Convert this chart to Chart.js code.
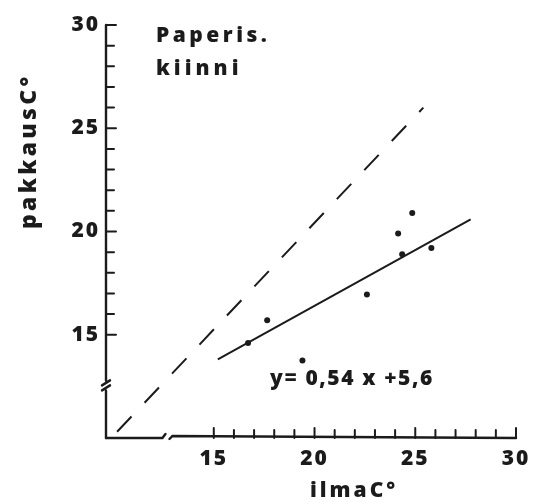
<!DOCTYPE html>
<html>
<head>
<meta charset="utf-8">
<script src="https://cdn.jsdelivr.net/npm/chart.js@4"></script>
<style>
  body { margin: 0; background: #fff; }
  canvas { display: block; }
</style>
</head>
<body>
<canvas id="chart" width="537" height="504"></canvas>
<script>
// measured temperatures: air (x) vs package (y)
const airTemp = [16.7, 17.65, 19.4, 22.6, 24.15, 24.35, 24.85, 25.8];
const packTemp = [14.6, 15.7, 13.75, 16.95, 19.9, 18.9, 20.9, 19.2];

// fitted line y = 0.54 x + 5.6 and where it is drawn
const slope = 0.54;
const intercept = 5.6;
const fitRange = [15.2, 27.75];

// reference line (package = air)
const equalX = [10.2, 25.4];
const equalY = [10.3, 26.0];

const tickLabels = [15, 20, 25, 30];
const minorTicks = [15, 16, 17, 18, 19, 20, 21, 22, 23, 24, 25, 26, 27, 28, 29, 30];

const ink = '#1b1b1b';
const fontFamily = '"Noto Sans", "Open Sans", sans-serif';

// axes with breaks, inward tick marks and the hand-lettered texts
const brokenAxes = {
    id: 'brokenAxes',
    beforeDraw(chart) {
        chart.ctx.letterSpacing = '2px';
    },
    afterDraw(chart) {
        const ctx = chart.ctx;
        const xs = chart.scales.x;
        const ys = chart.scales.y;
        const x0 = chart.chartArea.left;
        const y0 = chart.chartArea.bottom;
        const top = ys.getPixelForValue(30);
        const right = xs.getPixelForValue(30);

        ctx.save();
        ctx.strokeStyle = ink;
        ctx.lineWidth = 2.4;
        ctx.lineCap = 'round';

        // y axis with a break near the bottom
        const yb = ys.getPixelForValue(12.5);
        ctx.beginPath();
        ctx.moveTo(x0, top);
        ctx.lineTo(x0, yb - 6);
        ctx.moveTo(x0 - 4, yb - 1);
        ctx.lineTo(x0 + 4, yb - 6);
        ctx.moveTo(x0 - 4, yb + 4);
        ctx.lineTo(x0 + 4, yb - 1);
        ctx.moveTo(x0, yb + 4);
        ctx.lineTo(x0, y0);
        ctx.stroke();

        // x axis with a break near the left
        const xb = xs.getPixelForValue(12.7);
        ctx.beginPath();
        ctx.moveTo(x0, y0);
        ctx.lineTo(xb - 5, y0);
        ctx.lineTo(xb - 2, y0 - 4);
        ctx.moveTo(xb + 2, y0 + 1);
        ctx.lineTo(xb + 5, y0 - 2);
        ctx.lineTo(right, y0);
        ctx.stroke();

        // tick marks pointing into the plot
        ctx.lineWidth = 2;
        ctx.beginPath();
        minorTicks.forEach(v => {
            const len = v % 5 === 0 ? 10 : 8;
            const py = ys.getPixelForValue(v);
            ctx.moveTo(x0, py);
            ctx.lineTo(x0 + len, py);
            const px = xs.getPixelForValue(v);
            ctx.moveTo(px, y0);
            ctx.lineTo(px, y0 - len);
        });
        ctx.stroke();

        // texts
        ctx.fillStyle = ink;
        ctx.textBaseline = 'alphabetic';
        ctx.textAlign = 'left';
        ctx.font = '900 21px ' + fontFamily;
        ctx.letterSpacing = '3.5px';
        ctx.fillText('Paperis.', 156, 42);
        ctx.letterSpacing = '4px';
        ctx.fillText('kiinni', 156, 75);

        ctx.letterSpacing = '1.6px';
        ctx.fillText('y= 0,54 x +5,6', 270, 385);

        ctx.letterSpacing = '3px';
        ctx.fillText('ilmaC°', 310, 497);

        ctx.translate(36, 229);
        ctx.rotate(-Math.PI / 2);
        ctx.font = '900 23px ' + fontFamily;
        ctx.letterSpacing = '3.3px';
        ctx.fillText('pakkausC°', 0, 0);
        ctx.restore();
    }
};

document.addEventListener("DOMContentLoaded", function () {
    const ctx = document.getElementById('chart').getContext('2d');

    new Chart(ctx, {
        type: 'scatter',
        data: {
            datasets: [
                {
                    label: 'mittaukset',
                    data: airTemp.map((x, i) => ({ x: x, y: packTemp[i] })),
                    backgroundColor: ink,
                    borderColor: ink,
                    pointRadius: 3,
                    pointBorderWidth: 0
                },
                {
                    label: 'sovite',
                    data: fitRange.map(x => ({ x: x, y: slope * x + intercept })),
                    showLine: true,
                    borderColor: ink,
                    borderWidth: 2,
                    pointRadius: 0
                },
                {
                    label: 'pakkaus = ilma',
                    data: equalX.map((x, i) => ({ x: x, y: equalY[i] })),
                    showLine: true,
                    borderColor: ink,
                    borderWidth: 2,
                    borderDash: [21, 19],
                    pointRadius: 0
                }
            ]
        },
        options: {
            responsive: false,
            animation: false,
            layout: { padding: { top: 25, right: 21, bottom: 0, left: 0 } },
            plugins: {
                legend: { display: false },
                tooltip: { enabled: false }
            },
            scales: {
                x: {
                    type: 'linear',
                    min: 9.65,
                    max: 30,
                    grid: { display: false, drawTicks: false },
                    border: { display: false },
                    afterBuildTicks: scale => { scale.ticks = tickLabels.map(v => ({ value: v })); },
                    afterFit: scale => { scale.height = 66; },
                    ticks: {
                        color: ink,
                        padding: 8,
                        maxRotation: 0,
                        font: { family: fontFamily, size: 21, weight: '900' }
                    }
                },
                y: {
                    type: 'linear',
                    min: 10,
                    max: 30,
                    grid: { display: false, drawTicks: false },
                    border: { display: false },
                    afterBuildTicks: scale => { scale.ticks = tickLabels.map(v => ({ value: v })); },
                    afterFit: scale => { scale.width = 106; },
                    ticks: {
                        color: ink,
                        padding: 6,
                        font: { family: fontFamily, size: 21, weight: '900' }
                    }
                }
            }
        },
        plugins: [brokenAxes]
    });
});
</script>
</body>
</html>
